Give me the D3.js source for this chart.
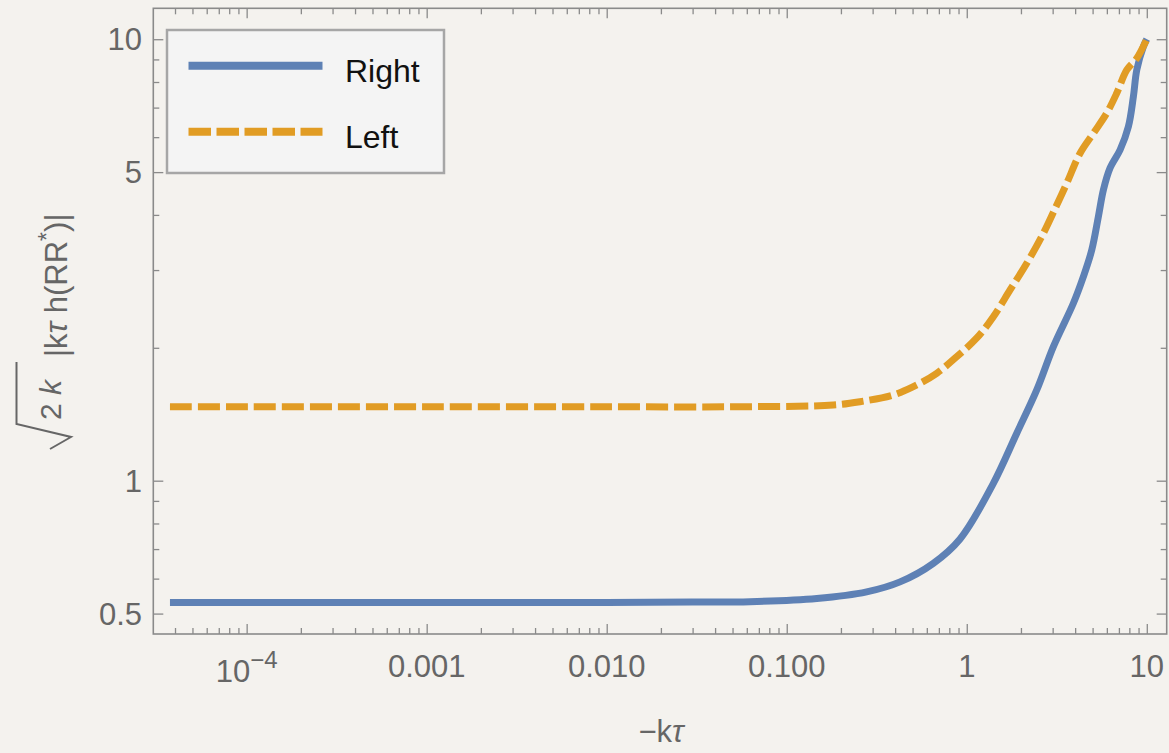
<!DOCTYPE html>
<html>
<head>
<meta charset="utf-8">
<script src="https://cdn.jsdelivr.net/npm/d3@7"></script>
<style>
  html, body { margin: 0; padding: 0; background: #f4f2ee; }
  svg { display: block; font-family: "Liberation Sans", Arial, sans-serif; }
</style>
</head>
<body>
<svg id="chart" width="1169" height="753"></svg>
<script>
// Mode functions vs -kτ (log-log)
const xRight = [3.75e-5, 1e-4, 1e-3, 1e-2, 0.03, 0.0625, 0.147, 0.278, 0.426, 0.652, 0.918, 1.405, 1.896, 2.448, 3.028, 3.910, 4.444, 4.948, 5.384, 5.741, 6.254, 7.107, 7.903, 8.425, 8.800, 9.575, 10];
const yRight = [0.53, 0.53, 0.53, 0.53, 0.531, 0.532, 0.541, 0.560, 0.590, 0.650, 0.738, 0.986, 1.281, 1.605, 2.012, 2.523, 2.899, 3.332, 3.964, 4.556, 5.110, 5.614, 6.339, 7.413, 8.521, 9.622, 10];

const xLeft = [3.75e-5, 1e-4, 1e-3, 1e-2, 0.0625, 0.1815, 0.2554, 0.391, 0.505, 0.681, 0.880, 1.137, 1.405, 1.740, 2.154, 2.665, 3.162, 3.594, 4.261, 5.051, 5.987, 6.804, 7.743, 8.800, 10];
const yLeft = [1.47, 1.47, 1.47, 1.47, 1.471, 1.484, 1.510, 1.564, 1.633, 1.751, 1.910, 2.105, 2.352, 2.704, 3.108, 3.635, 4.213, 4.719, 5.518, 6.124, 6.798, 7.543, 8.521, 9.057, 10];

const seriesNames = ["Right", "Left"];

const xMajor = [1e-4, 1e-3, 1e-2, 1e-1, 1, 10];
const xMajorLabels = ["10|−4", "0.001", "0.010", "0.100", "1", "10"];
const yMajor = [0.5, 1, 5, 10];
const yMajorLabels = ["0.5", "1", "5", "10"];
const yMinor = [0.6, 0.7, 0.8, 0.9, 2, 3, 4, 6, 7, 8, 9];

const svg = d3.select("#chart");
const W = 1169, H = 753;
const L = 153.3, R = 1166.7, T = 8.3, B = 634;

svg.append("rect").attr("width", W).attr("height", H).attr("fill", "#f4f2ee");

const x = d3.scaleLog().domain([3.03e-5, 12.9]).range([L, R]);
const y = d3.scaleLog().domain([0.4495, 11.75]).range([B, T]);

// x minor ticks: 2..9 in each decade inside the domain
const xMinor = [];
for (let e = -5; e <= 1; e++) {
  for (let m = 2; m <= 9; m++) {
    const v = m * Math.pow(10, e);
    if (v > x.domain()[0] && v < x.domain()[1]) xMinor.push(v);
  }
}

const axisColor = "#8a8a8a";
const labelColor = "#666666";

function styleAxis(g) {
  g.select(".domain").remove();
  g.selectAll(".tick line").attr("stroke", axisColor).attr("stroke-width", 1.3);
  g.selectAll(".tick text").remove();
}

// bottom / top
svg.append("g").attr("transform", `translate(0,${B})`)
  .call(d3.axisBottom(x).tickValues(xMajor).tickSizeInner(-10).tickSizeOuter(0)).call(styleAxis);
svg.append("g").attr("transform", `translate(0,${B})`)
  .call(d3.axisBottom(x).tickValues(xMinor).tickSizeInner(-6).tickSizeOuter(0)).call(styleAxis);
svg.append("g").attr("transform", `translate(0,${T})`)
  .call(d3.axisTop(x).tickValues(xMajor).tickSizeInner(-10).tickSizeOuter(0)).call(styleAxis);
svg.append("g").attr("transform", `translate(0,${T})`)
  .call(d3.axisTop(x).tickValues(xMinor).tickSizeInner(-6).tickSizeOuter(0)).call(styleAxis);
// left / right
svg.append("g").attr("transform", `translate(${L},0)`)
  .call(d3.axisLeft(y).tickValues(yMajor).tickSizeInner(-10).tickSizeOuter(0)).call(styleAxis);
svg.append("g").attr("transform", `translate(${L},0)`)
  .call(d3.axisLeft(y).tickValues(yMinor).tickSizeInner(-6).tickSizeOuter(0)).call(styleAxis);
svg.append("g").attr("transform", `translate(${R},0)`)
  .call(d3.axisRight(y).tickValues(yMajor).tickSizeInner(-10).tickSizeOuter(0)).call(styleAxis);
svg.append("g").attr("transform", `translate(${R},0)`)
  .call(d3.axisRight(y).tickValues(yMinor).tickSizeInner(-6).tickSizeOuter(0)).call(styleAxis);

// frame
svg.append("rect").attr("x", L).attr("y", T).attr("width", R - L).attr("height", B - T)
  .attr("fill", "none").attr("stroke", axisColor).attr("stroke-width", 1.6);

// x tick labels
const xl = svg.append("g").attr("fill", labelColor).attr("font-size", 31).attr("text-anchor", "middle");
xMajor.forEach((v, i) => {
  const lab = xMajorLabels[i];
  if (lab.includes("|")) {
    const [base, sup] = lab.split("|");
    const t = xl.append("text").attr("x", x(v)).attr("y", 682);
    t.append("tspan").text(base);
    t.append("tspan").attr("font-size", 24).attr("dy", -14).text(sup);
  } else {
    xl.append("text").attr("x", x(v)).attr("y", 677).text(lab);
  }
});

// y tick labels
const ylab = svg.append("g").attr("fill", labelColor).attr("font-size", 31).attr("text-anchor", "end");
yMajor.forEach((v, i) => {
  ylab.append("text").attr("x", 142).attr("y", y(v) + 11).text(yMajorLabels[i]);
});

// x axis title
const xt = svg.append("text").attr("x", 661).attr("y", 742).attr("text-anchor", "middle")
  .attr("fill", labelColor).attr("font-size", 31);
xt.append("tspan").text("−k");
xt.append("tspan").attr("font-style", "italic").text("τ");

// y axis title: √(2k) |kτ h(RR*)|
const yt = svg.append("g").attr("transform", "rotate(-90)").attr("fill", labelColor);
yt.append("path")
  .attr("d", "M-449,50 L-437,71 L-424,16.5 L-362,16.5")
  .attr("fill", "none").attr("stroke", labelColor).attr("stroke-width", 2)
  .attr("stroke-linejoin", "miter");
const yt1 = yt.append("text").attr("x", -420).attr("y", 61).attr("font-size", 30);
yt1.append("tspan").text("2 ");
yt1.append("tspan").attr("font-style", "italic").text("k");
const yt2 = yt.append("text").attr("x", -357).attr("y", 67).attr("font-size", 31);
yt2.append("tspan").text("|k");
yt2.append("tspan").attr("font-style", "italic").text("τ");
yt2.append("tspan").text(" h(RR");
yt2.append("tspan").attr("font-size", 23).attr("dy", -12).text("*");
yt2.append("tspan").attr("dy", 12).text(")|");

// curves
const line = d3.line().x(d => x(d[0])).y(d => y(d[1])).curve(d3.curveCatmullRom.alpha(0.5));
const blue = "#5e81b5", orange = "#e19c24";
const dataRight = xRight.map((v, i) => [v, yRight[i]]);
const dataLeft = xLeft.map((v, i) => [v, yLeft[i]]);

const plotArea = svg.append("g");
plotArea.append("path").datum(dataRight).attr("d", line)
  .attr("fill", "none").attr("stroke", blue).attr("stroke-width", 7);
plotArea.append("path").datum(dataLeft).attr("d", line)
  .attr("fill", "none").attr("stroke", orange).attr("stroke-width", 7)
  .attr("stroke-dasharray", "22,6");

// legend
const lg = svg.append("g");
lg.append("rect").attr("x", 167).attr("y", 30).attr("width", 277).attr("height", 143)
  .attr("fill", "#f4f4f4").attr("stroke", "#a6a6a6").attr("stroke-width", 2.5);
const legendRows = [
  { name: seriesNames[0], color: blue, dash: null, yy: 65.7 },
  { name: seriesNames[1], color: orange, dash: "22.5,5.5", yy: 131.7 }
];
legendRows.forEach(r => {
  lg.append("line").attr("x1", 188.5).attr("x2", 322.5).attr("y1", r.yy).attr("y2", r.yy)
    .attr("stroke", r.color).attr("stroke-width", 8).attr("stroke-dasharray", r.dash);
  lg.append("text").attr("x", 345).attr("y", r.yy + 16).attr("font-size", 32)
    .attr("fill", "#111").text(r.name);
});
</script>
</body>
</html>
